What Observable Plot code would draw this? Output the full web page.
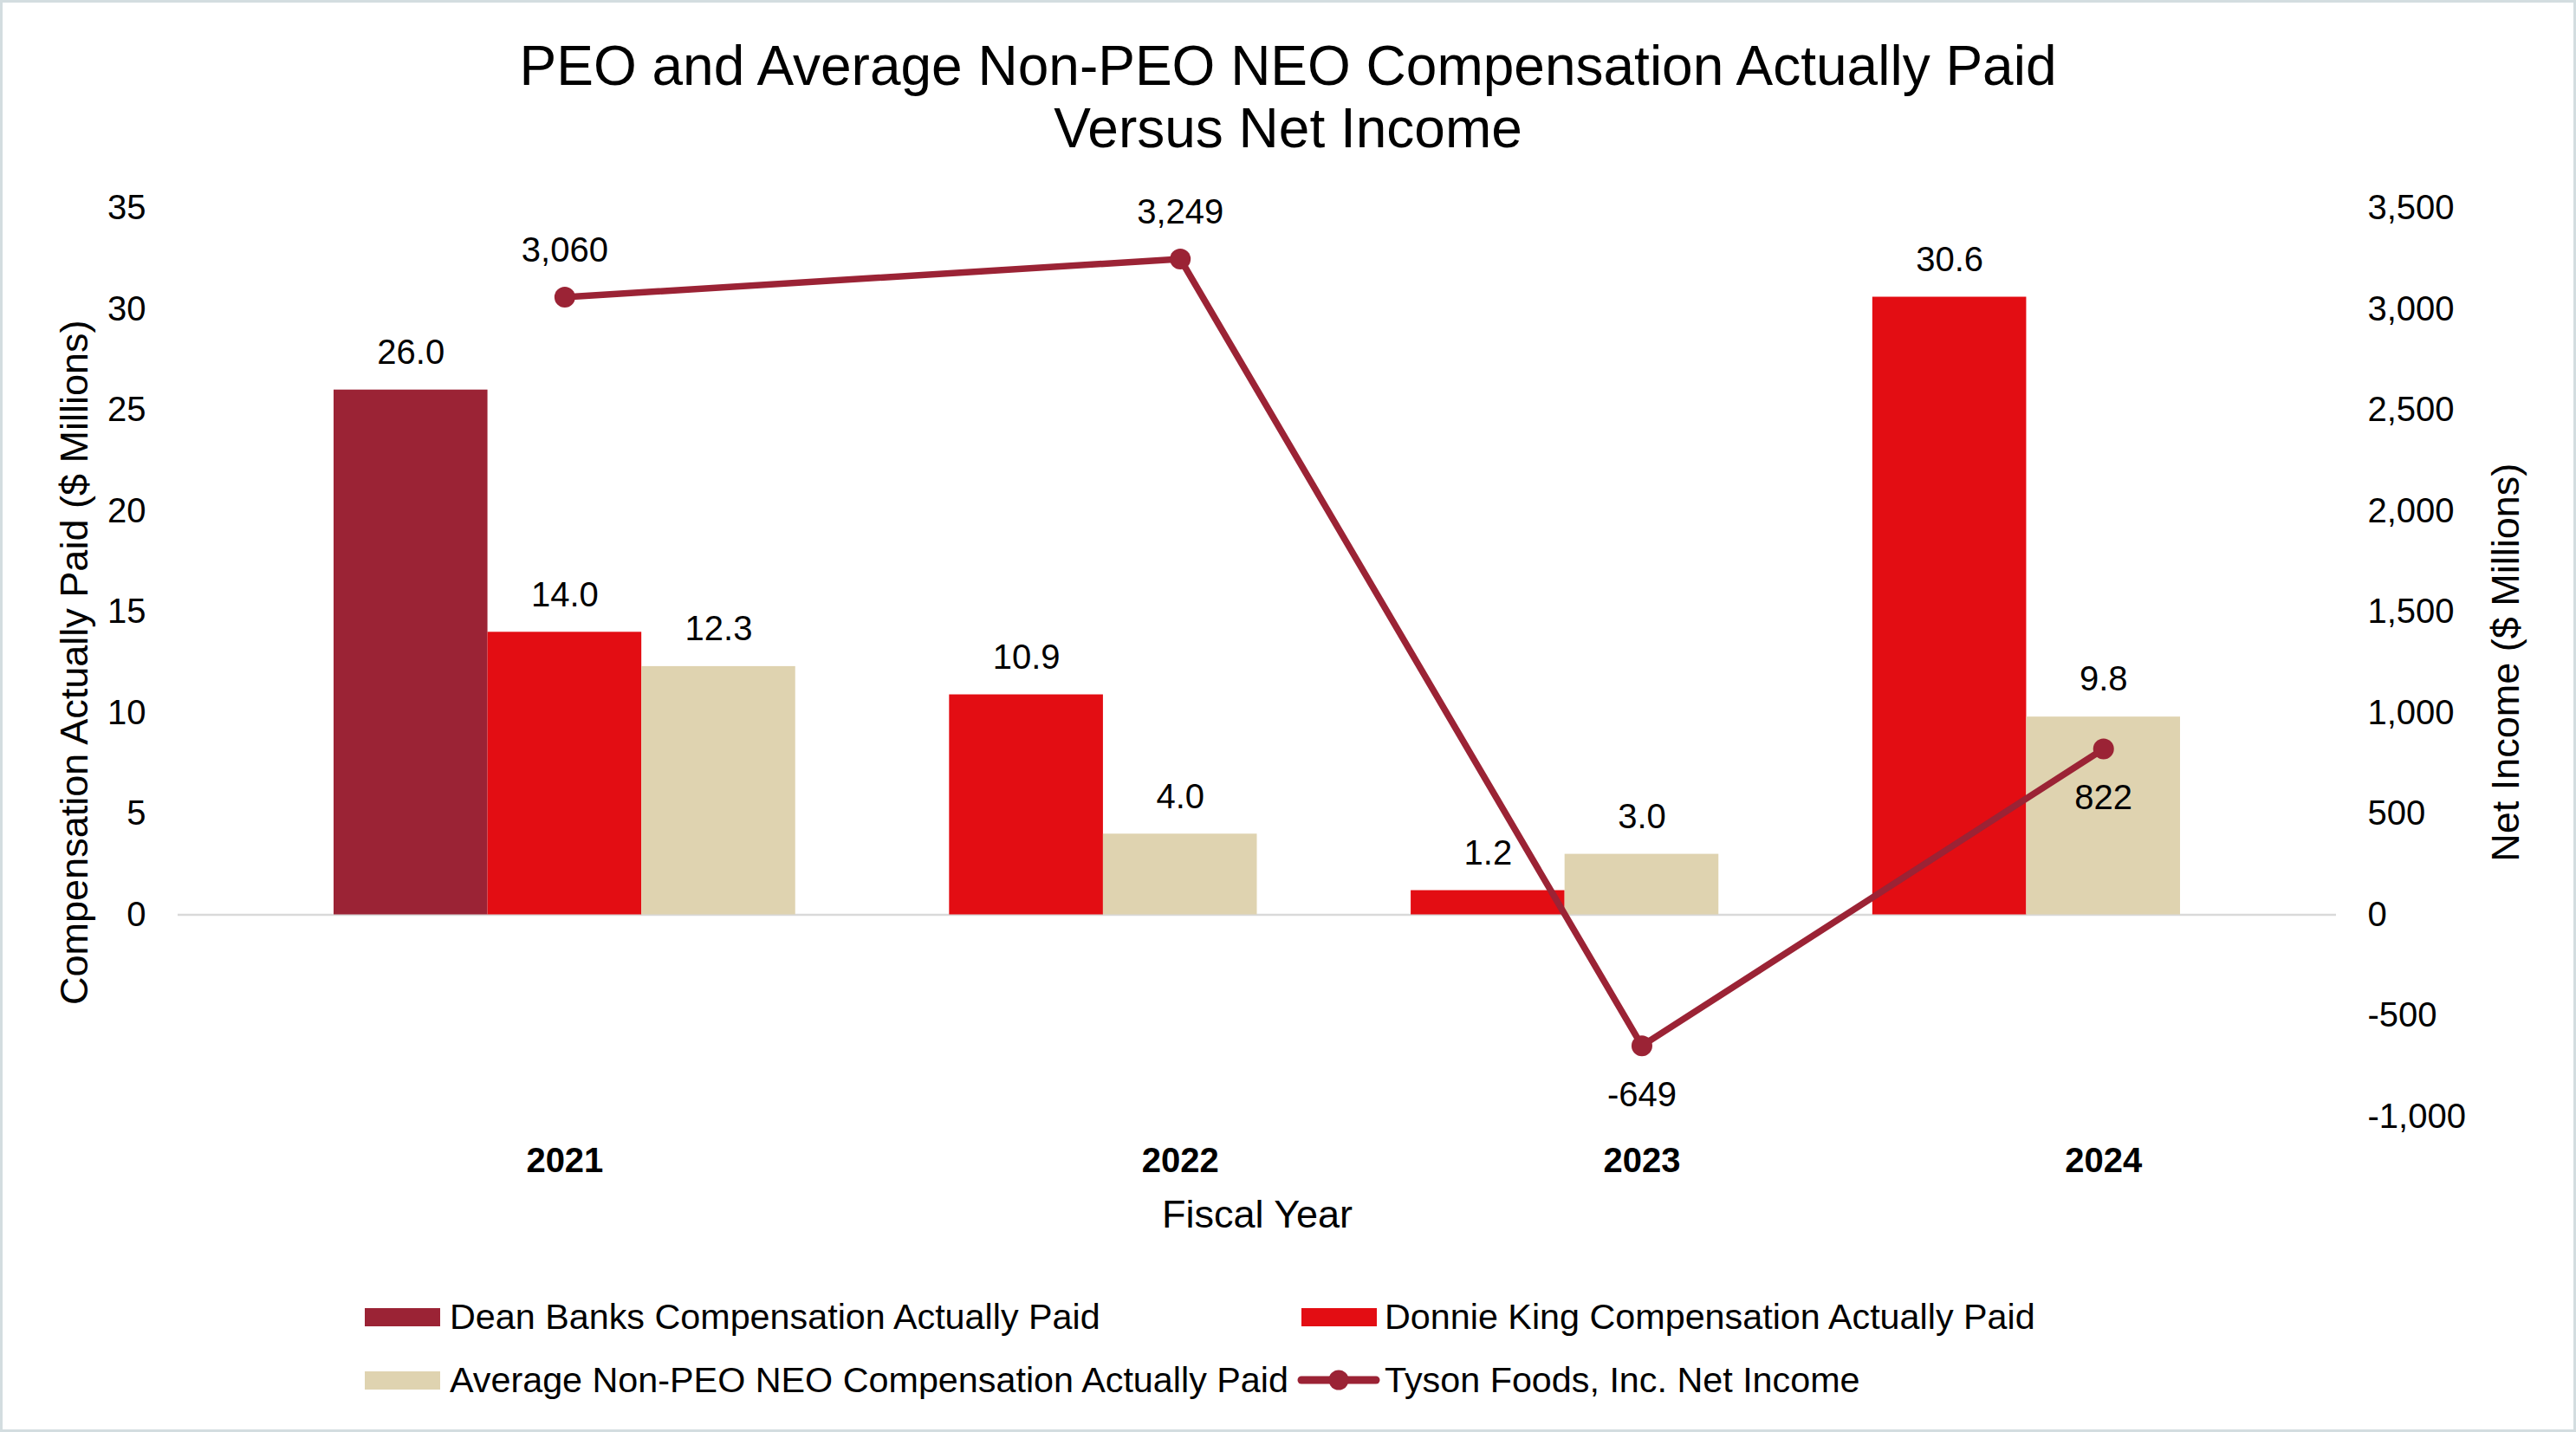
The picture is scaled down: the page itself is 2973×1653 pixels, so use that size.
<!DOCTYPE html>
<html>
<head>
<meta charset="utf-8">
<script src="https://cdn.jsdelivr.net/npm/d3@7"></script>
<script src="https://cdn.jsdelivr.net/npm/@observablehq/plot@0.6"></script>
<style>
  html, body { margin: 0; padding: 0; background: #fff; }
  body { font-family: "Liberation Sans", Arial, sans-serif; color: #000; }
  #wrap { position: relative; width: 2973px; height: 1653px; background: #fff; overflow: hidden; }
  #frame { position: absolute; inset: 0; border: 3px solid #d3dde0; box-sizing: border-box; pointer-events: none; }
  #title { position: absolute; left: 0; top: 40px; width: 2973px; text-align: center; font-size: 64px; line-height: 72px; }
  #chart { position: absolute; left: 0; top: 200px; }
  .lg-text { position: absolute; font-size: 41.3px; line-height: 50px; white-space: nowrap; }
  .lg-sw { position: absolute; }
</style>
</head>
<body>
<div id="wrap">
  <div id="title">PEO and Average Non-PEO NEO Compensation Actually Paid<br>Versus Net Income</div>
  <div id="chart"></div>
  <div id="legend"></div>
  <div id="frame"></div>
</div>
<script>
// ---- data ----
const years = ["2021", "2022", "2023", "2024"];
const seriesNames = [
  "Dean Banks Compensation Actually Paid",
  "Donnie King Compensation Actually Paid",
  "Average Non-PEO NEO Compensation Actually Paid"
];
const deanBanks = [26.0, null, null, null];
const donnieKing = [14.0, 10.9, 1.2, 30.6];
const avgNonPeo = [12.3, 4.0, 3.0, 9.8];
const netIncomeName = "Tyson Foods, Inc. Net Income";
const netIncome = [3060, 3249, -649, 822];
// which bar of each year the year label and net-income point sit over (index into seriesNames)
const yearAnchorSeries = [1, 2, 2, 2];
const netIncomeLabelAbove = [true, true, false, false];
const leftTicks = [0, 5, 10, 15, 20, 25, 30, 35];
const rightTicks = [-1000, -500, 0, 500, 1000, 1500, 2000, 2500, 3000, 3500];
const yTitleLeft = "Compensation Actually Paid ($ Millions)";
const yTitleRight = "Net Income ($ Millions)";
const xTitle = "Fiscal Year";

// ---- styles ----
const colors = ["#9b2335", "#e30d13", "#dfd3b0"];
const lineColor = "#9b2335";
const FONT = "'Liberation Sans', Arial, sans-serif";

// ---- build tables ----
const seriesValues = [deanBanks, donnieKing, avgNonPeo];
const bars = years.flatMap((yr, i) =>
  seriesValues.map((vals, s) => ({year: yr, series: seriesNames[s], value: vals[i], slot: yr + "|" + s}))
    .filter(d => d.value != null)
);
const slotDomain = [];
years.forEach(yr => {
  slotDomain.push("gap|" + yr);
  bars.filter(d => d.year === yr).forEach(d => slotDomain.push(d.slot));
});
slotDomain.push("gap|end");

const ni = years.map((yr, i) => ({
  year: yr, value: netIncome[i], y: netIncome[i] / 100,
  slot: yr + "|" + yearAnchorSeries[i], above: netIncomeLabelAbove[i]
}));
const yearLabels = years.map((yr, i) => ({year: yr, slot: yr + "|" + yearAnchorSeries[i]}));

const fmtNum = v => (v < 0 ? "-" : "") + d3.format(",")(Math.abs(v));

const plot = Plot.plot({
  width: 2973,
  height: 1250,
  marginLeft: 205,
  marginRight: 277,
  marginTop: 40,
  marginBottom: 161.5,
  style: {fontFamily: FONT, fontSize: "40px", color: "#000", background: "transparent", overflow: "visible"},
  x: {type: "band", domain: slotDomain, padding: 0, round: false, range: [207.4, 2693.6], axis: null},
  y: {domain: [-10, 35], axis: null},
  color: {domain: seriesNames, range: colors},
  marks: [
    Plot.ruleY([0], {stroke: "#d9d9d9", strokeWidth: 2.5}),
    Plot.barY(bars, {x: "slot", y: "value", fill: "series", inset: 0}),
    Plot.axisY(leftTicks, {anchor: "left", tickSize: 0, tickPadding: 37, fontSize: 40, label: null, tickFormat: d => String(d)}),
    Plot.axisY(rightTicks.map(v => v / 100), {anchor: "right", tickSize: 0, tickPadding: 36, fontSize: 40, label: null, tickFormat: d => fmtNum(Math.round(d * 100))}),
    Plot.text([yTitleLeft], {frameAnchor: "left", dx: -119, rotate: -90, textAnchor: "middle", fontSize: 45}),
    Plot.text([yTitleRight], {frameAnchor: "right", dx: 196, rotate: -90, textAnchor: "middle", fontSize: 45}),
    Plot.text(yearLabels, {x: "slot", frameAnchor: "bottom", dy: 63.5, text: "year", fontWeight: "bold", fontSize: 40}),
    Plot.text([xTitle], {frameAnchor: "bottom", dy: 128, fontSize: 45}),
    Plot.text(bars, {x: "slot", y: "value", text: d => d.value.toFixed(1), dy: -43, fontSize: 40}),
    Plot.line(ni, {x: "slot", y: "y", stroke: lineColor, strokeWidth: 7.5, strokeLinejoin: "round"}),
    Plot.dot(ni, {x: "slot", y: "y", r: 12, fill: lineColor, stroke: "none"}),
    Plot.text(ni.filter(d => d.above), {x: "slot", y: "y", text: d => fmtNum(d.value), dy: -54, fontSize: 40}),
    Plot.text(ni.filter(d => !d.above), {x: "slot", y: "y", text: d => fmtNum(d.value), dy: 57, fontSize: 40})
  ]
});
document.getElementById("chart").appendChild(plot);

// ---- legend (below the SVG) ----
const legend = document.getElementById("legend");
const items = [
  {label: seriesNames[0], kind: "rect", color: colors[0], swX: 421, textX: 519, cy: 1520},
  {label: seriesNames[1], kind: "rect", color: colors[1], swX: 1502, textX: 1598, cy: 1520},
  {label: seriesNames[2], kind: "rect", color: colors[2], swX: 421, textX: 519, cy: 1593},
  {label: netIncomeName, kind: "line", color: lineColor, swX: 1497, textX: 1598, cy: 1593}
];
items.forEach(it => {
  const ns = "http://www.w3.org/2000/svg";
  const svg = document.createElementNS(ns, "svg");
  svg.setAttribute("class", "lg-sw");
  if (it.kind === "rect") {
    svg.setAttribute("width", 87); svg.setAttribute("height", 21);
    svg.style.left = it.swX + "px"; svg.style.top = (it.cy - 10.5) + "px";
    const r = document.createElementNS(ns, "rect");
    r.setAttribute("width", 87); r.setAttribute("height", 21); r.setAttribute("fill", it.color);
    svg.appendChild(r);
  } else {
    svg.setAttribute("width", 96); svg.setAttribute("height", 26);
    svg.style.left = it.swX + "px"; svg.style.top = (it.cy - 13) + "px";
    const l = document.createElementNS(ns, "line");
    l.setAttribute("x1", 5); l.setAttribute("x2", 91); l.setAttribute("y1", 13); l.setAttribute("y2", 13);
    l.setAttribute("stroke", it.color); l.setAttribute("stroke-width", 9); l.setAttribute("stroke-linecap", "round");
    const c = document.createElementNS(ns, "circle");
    c.setAttribute("cx", 48); c.setAttribute("cy", 13); c.setAttribute("r", 11.5); c.setAttribute("fill", it.color);
    svg.appendChild(l); svg.appendChild(c);
  }
  legend.appendChild(svg);
  const t = document.createElement("div");
  t.className = "lg-text";
  t.textContent = it.label;
  t.style.left = it.textX + "px";
  t.style.top = (it.cy - 25) + "px";
  legend.appendChild(t);
});
</script>
</body>
</html>
